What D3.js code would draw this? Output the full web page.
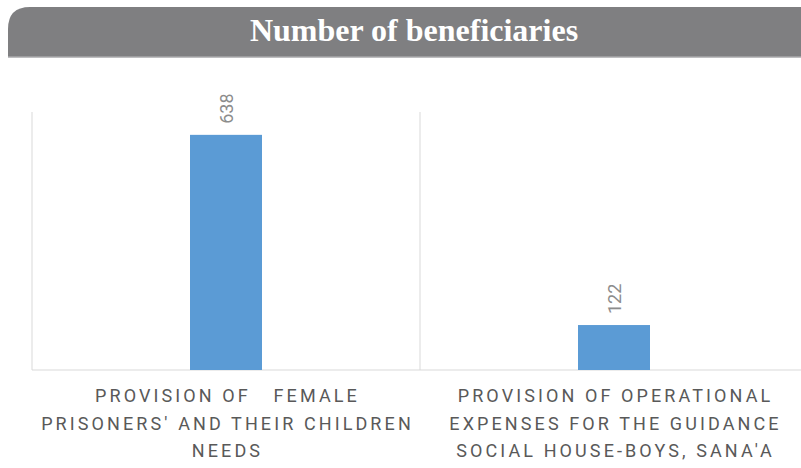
<!DOCTYPE html>
<html><head><meta charset="utf-8">
<script src="https://cdn.jsdelivr.net/npm/d3@7"></script>
<style>body{margin:0;background:#fff;} svg{display:block;}</style>
</head><body>
<svg id="c" width="801" height="468"></svg>
<script>
const title = "Number of beneficiaries";
const categories = [
  ["PROVISION OF   FEMALE", "PRISONERS' AND THEIR CHILDREN", "NEEDS"],
  ["PROVISION OF OPERATIONAL", "EXPENSES FOR THE GUIDANCE", "SOCIAL HOUSE-BOYS, SANA'A"]
];
const values = [638, 122];
const yMax = 700;

const svg = d3.select("#c");
// banner
const bx = 8, by = 7, bh = 50, r = 22;
svg.append("path")
  .attr("d", `M${bx},${by+bh} L${bx},${by+r} Q${bx},${by} ${bx+r},${by} L812,${by} L812,${by+bh} Z`)
  .attr("fill", "#7f7f81");
svg.append("line").attr("x1", bx).attr("x2", 801).attr("y1", by+bh).attr("y2", by+bh)
  .attr("stroke", "#a9a9ab").attr("stroke-width", 1.5);
svg.append("text").attr("x", 414).attr("y", 41).attr("text-anchor", "middle")
  .attr("font-family", "Liberation Serif, serif").attr("font-weight", "bold")
  .attr("font-size", 32).attr("fill", "#fff").text(title);

const x0 = 32, x1 = 808, yTop = 112, yBase = 370;
const x = d3.scaleBand().domain(d3.range(values.length)).range([x0, x1]).paddingInner(0).paddingOuter(0);
const y = d3.scaleLinear().domain([0, yMax]).range([yBase, yTop]);

// vertical gridlines (category separators)
const seps = d3.range(values.length + 1).map(i => x0 + i * x.bandwidth());
svg.selectAll("line.sep").data(seps).enter().append("line")
  .attr("x1", d => d).attr("x2", d => d).attr("y1", yTop).attr("y2", yBase)
  .attr("stroke", "#d9d9d9").attr("stroke-width", 1);
// baseline
svg.append("line").attr("x1", x0).attr("x2", x1).attr("y1", yBase).attr("y2", yBase)
  .attr("stroke", "#d9d9d9").attr("stroke-width", 1);

const bw = 72;
svg.selectAll("rect.bar").data(values).enter().append("rect")
  .attr("x", (d, i) => x(i) + x.bandwidth() / 2 - bw / 2)
  .attr("width", bw)
  .attr("y", d => y(d)).attr("height", d => yBase - y(d))
  .attr("fill", "#5b9bd5");

// value labels
svg.selectAll("text.val").data(values).enter().append("text")
  .attr("transform", (d, i) => `translate(${x(i) + x.bandwidth() / 2 + 6.5},${y(d) - 11}) rotate(-90)`)
  .attr("text-anchor", "start")
  .attr("font-family", "Roboto, sans-serif").attr("font-size", 18)
  .attr("fill", "#8c8c8c").text(d => d);

// category labels
categories.forEach((lines, i) => {
  const t = svg.append("text").attr("text-anchor", "middle")
    .attr("font-family", "Roboto, sans-serif").attr("font-size", 18)
    .attr("letter-spacing", 3.1).attr("fill", "#595959")
    .style("white-space", "pre");
  lines.forEach((ln, j) => {
    t.append("tspan").attr("x", x(i) + x.bandwidth() / 2 + 1.5).attr("y", 402 + j * 27.5).text(ln);
  });
});
</script>
</body></html>
